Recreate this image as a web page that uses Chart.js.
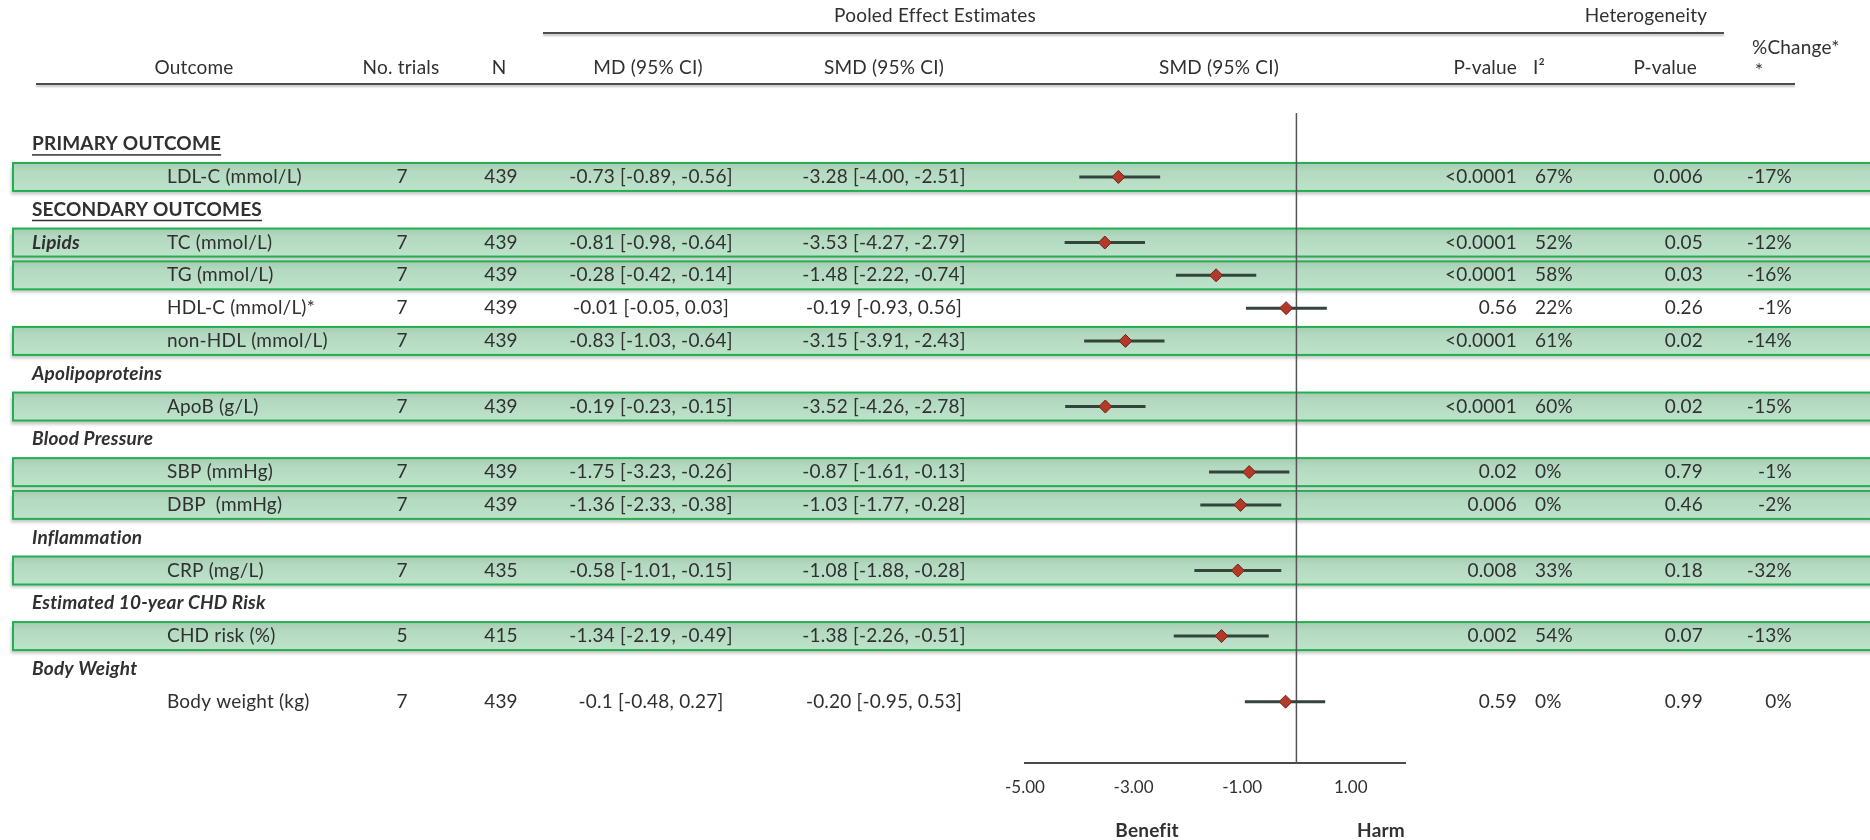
<!DOCTYPE html>
<html>
<head>
<meta charset="utf-8">
<script src="https://cdn.jsdelivr.net/npm/chart.js@4.4.1/dist/chart.umd.min.js"></script>
<style>
  html, body { margin: 0; background: #fff; }
  canvas { display: block; }
</style>
</head>
<body>
<canvas id="forest" width="1870" height="840" style="width:1870px;height:840px"></canvas>
<script>
// rows of the table: 0 = top row, 17 = last row
const headingText = ['PRIMARY OUTCOME', 'SECONDARY OUTCOMES', 'Apolipoproteins', 'Blood Pressure',
                     'Inflammation', 'Estimated 10-year CHD Risk', 'Body Weight'];
const headingRow = [0, 2, 7, 9, 12, 14, 16];
const headingCaps = [true, true, false, false, false, false, false];
const tagText = ['Lipids'];
const tagRow = [3];

const outcomes = ['LDL-C (mmol/L)', 'TC (mmol/L)', 'TG (mmol/L)', 'HDL-C (mmol/L)*', 'non-HDL (mmol/L)',
                  'ApoB (g/L)', 'SBP (mmHg)', 'DBP  (mmHg)', 'CRP (mg/L)', 'CHD risk (%)', 'Body weight (kg)'];
const outcomeRow = [1, 3, 4, 5, 6, 8, 10, 11, 13, 15, 17];
const significant = [true, true, true, false, true, true, true, true, true, true, false];
const trials = [7, 7, 7, 7, 7, 7, 7, 7, 7, 5, 7];
const nTotal = [439, 439, 439, 439, 439, 439, 439, 439, 435, 415, 439];
const mdText = ['-0.73 [-0.89, -0.56]', '-0.81 [-0.98, -0.64]', '-0.28 [-0.42, -0.14]', '-0.01 [-0.05, 0.03]',
                '-0.83 [-1.03, -0.64]', '-0.19 [-0.23, -0.15]', '-1.75 [-3.23, -0.26]', '-1.36 [-2.33, -0.38]',
                '-0.58 [-1.01, -0.15]', '-1.34 [-2.19, -0.49]', '-0.1 [-0.48, 0.27]'];
const smdEst = [-3.28, -3.53, -1.48, -0.19, -3.15, -3.52, -0.87, -1.03, -1.08, -1.38, -0.20];
const smdLo  = [-4.00, -4.27, -2.22, -0.93, -3.91, -4.26, -1.61, -1.77, -1.88, -2.26, -0.95];
const smdHi  = [-2.51, -2.79, -0.74, 0.56, -2.43, -2.78, -0.13, -0.28, -0.28, -0.51, 0.53];
const pValue = ['<0.0001', '<0.0001', '<0.0001', '0.56', '<0.0001', '<0.0001', '0.02', '0.006', '0.008', '0.002', '0.59'];
const iSquared = ['67%', '52%', '58%', '22%', '61%', '60%', '0%', '0%', '33%', '54%', '0%'];
const hetP = ['0.006', '0.05', '0.03', '0.26', '0.02', '0.02', '0.79', '0.46', '0.18', '0.07', '0.99'];
const pctChange = ['-17%', '-12%', '-16%', '-1%', '-14%', '-15%', '-1%', '-2%', '-32%', '-13%', '0%'];

const xTicks = [-5, -3, -1, 1];
const nullEffect = 0;

const FONT = 'Lato, "Open Sans", sans-serif';
const TEXT = '#303030';

function fmt(v) { return v.toFixed(2); }

function put(ctx, s, x, y, align, font) {
    ctx.font = font;
    ctx.textAlign = align;
    ctx.fillText(s, x, y);
}

function hline(ctx, x1, x2, y) {
    ctx.save();
    ctx.shadowColor = 'rgba(0,0,0,0.25)';
    ctx.shadowOffsetY = 2;
    ctx.shadowBlur = 2;
    ctx.strokeStyle = '#4d4d4d';
    ctx.lineWidth = 2;
    ctx.beginPath();
    ctx.moveTo(x1, y);
    ctx.lineTo(x2, y);
    ctx.stroke();
    ctx.restore();
}

// green boxes, table text, reference line
const tablePlugin = {
    id: 'tablePlugin',
    beforeDraw(chart) {
        const ctx = chart.ctx;
        const y = chart.scales.y;
        ctx.save();
        ctx.fillStyle = '#fff';
        ctx.fillRect(0, 0, chart.width, chart.height);
        outcomeRow.forEach((r, i) => {
            if (!significant[i]) return;
            const cy = y.getPixelForValue(r);
            const top = cy - 14, h = 28;
            ctx.save();
            ctx.shadowColor = 'rgba(0,0,0,0.22)';
            ctx.shadowOffsetY = 4;
            ctx.shadowOffsetX = -2;
            ctx.shadowBlur = 3;
            const g = ctx.createLinearGradient(0, top, 0, top + h);
            g.addColorStop(0, '#a7cbb3');
            g.addColorStop(0.3, '#b3d9c0');
            g.addColorStop(1, '#bee3cb');
            ctx.fillStyle = g;
            ctx.fillRect(13, top, chart.width, h);
            ctx.restore();
            ctx.strokeStyle = '#22b04f';
            ctx.lineWidth = 2;
            ctx.strokeRect(13, top, chart.width + 10, h);
        });
        ctx.restore();
    },
    beforeDatasetsDraw(chart) {
        const ctx = chart.ctx;
        const area = chart.chartArea;
        const x0 = chart.scales.x.getPixelForValue(nullEffect);
        ctx.save();
        ctx.strokeStyle = '#555';
        ctx.lineWidth = 1.5;
        ctx.beginPath();
        ctx.moveTo(x0, area.top);
        ctx.lineTo(x0, area.bottom);
        ctx.stroke();
        ctx.restore();
    },
    afterDraw(chart) {
        const ctx = chart.ctx;
        const y = chart.scales.y;
        const reg = '19px ' + FONT;
        const bold = 'bold 19px ' + FONT;
        const boldIt = 'italic bold 19px ' + FONT;
        ctx.save();
        ctx.fillStyle = TEXT;
        ctx.textBaseline = 'middle';
        ctx.letterSpacing = '0.2px';

        // column headers
        put(ctx, 'Pooled Effect Estimates', 935, 16, 'center', reg);
        put(ctx, 'Heterogeneity', 1646, 16, 'center', reg);
        hline(ctx, 543, 1724, 33);
        put(ctx, '%Change*', 1752, 48, 'left', reg);
        put(ctx, 'Outcome', 194, 68, 'center', reg);
        put(ctx, 'No. trials', 401, 68, 'center', reg);
        put(ctx, 'N', 499, 68, 'center', reg);
        put(ctx, 'MD (95% CI)', 648, 68, 'center', reg);
        put(ctx, 'SMD (95% CI)', 884, 68, 'center', reg);
        put(ctx, 'SMD (95% CI)', 1219, 68, 'center', reg);
        put(ctx, 'P-value', 1517, 68, 'right', reg);
        put(ctx, 'I²', 1533, 68, 'left', reg);
        put(ctx, 'P-value', 1697, 68, 'right', reg);
        put(ctx, '*', 1755, 71, 'left', reg);
        hline(ctx, 36, 1795, 84);

        // section headings
        headingText.forEach((t, i) => {
            const cy = y.getPixelForValue(headingRow[i]);
            if (headingCaps[i]) {
                put(ctx, t, 32, cy, 'left', bold);
                const w = ctx.measureText(t).width;
                ctx.fillRect(32, cy + 10, w, 1.5);
            } else {
                put(ctx, t, 32, cy, 'left', boldIt);
            }
        });
        tagText.forEach((t, i) => put(ctx, t, 32, y.getPixelForValue(tagRow[i]), 'left', boldIt));

        // outcome rows
        outcomes.forEach((o, i) => {
            const cy = y.getPixelForValue(outcomeRow[i]);
            put(ctx, o, 167, cy, 'left', reg);
            put(ctx, String(trials[i]), 402, cy, 'center', reg);
            put(ctx, String(nTotal[i]), 501, cy, 'center', reg);
            put(ctx, mdText[i], 651, cy, 'center', reg);
            put(ctx, `${fmt(smdEst[i])} [${fmt(smdLo[i])}, ${fmt(smdHi[i])}]`, 884, cy, 'center', reg);
            put(ctx, pValue[i], 1517, cy, 'right', reg);
            put(ctx, iSquared[i], 1535, cy, 'left', reg);
            put(ctx, hetP[i], 1703, cy, 'right', reg);
            put(ctx, pctChange[i], 1792, cy, 'right', reg);
        });

        // direction labels under the axis
        put(ctx, 'Benefit', 1147, 831, 'center', bold);
        put(ctx, 'Harm', 1381, 831, 'center', bold);
        ctx.restore();
    }
};

const ciSets = outcomes.map((o, i) => ({
    label: o,
    data: [{ x: smdLo[i], y: outcomeRow[i] }, { x: smdHi[i], y: outcomeRow[i] }],
    showLine: true,
    borderColor: '#33443c',
    borderWidth: 3,
    pointRadius: 0
}));

const estimateSet = {
    label: 'SMD',
    data: smdEst.map((v, i) => ({ x: v, y: outcomeRow[i] })),
    pointStyle: 'rectRot',
    pointRadius: 6.5,
    backgroundColor: '#b33a28',
    borderColor: '#6a2516',
    borderWidth: 1
};

new Chart(document.getElementById('forest'), {
    type: 'scatter',
    data: { datasets: [estimateSet, ...ciSets] },
    options: {
        responsive: false,
        animation: false,
        devicePixelRatio: 1,
        layout: { padding: { left: 1025, right: 465, top: 113, bottom: 47 } },
        plugins: { legend: { display: false }, tooltip: { enabled: false } },
        scales: {
            x: {
                type: 'linear',
                min: -5,
                max: 2,
                afterBuildTicks: (s) => { s.ticks = xTicks.map(v => ({ value: v })); },
                afterFit: (s) => { s.height = 30; },
                ticks: {
                    callback: (v) => fmt(v),
                    font: { family: FONT, size: 17 },
                    color: TEXT,
                    padding: 14,
                    autoSkip: false,
                    maxRotation: 0
                },
                grid: { display: false, drawTicks: false },
                border: { display: true, color: '#4a4a4a', width: 2 }
            },
            y: {
                type: 'linear',
                min: -0.95,
                max: 18.87,
                reverse: true,
                display: false
            }
        }
    },
    plugins: [tablePlugin]
});
</script>
</body>
</html>
